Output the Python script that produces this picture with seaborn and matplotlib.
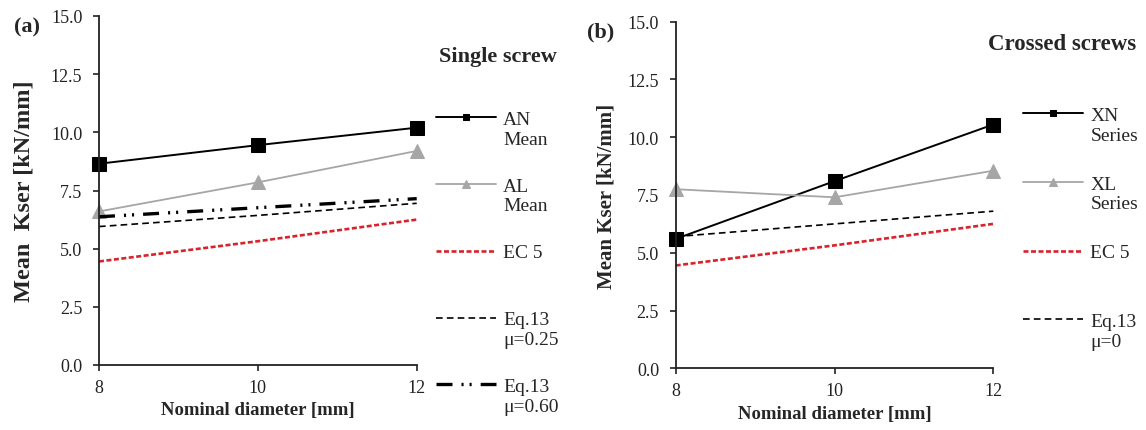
import numpy as np
import pandas as pd
import matplotlib
matplotlib.use("Agg")
import matplotlib.pyplot as plt
from matplotlib.legend_handler import HandlerLine2D
import seaborn as sns

# Nominal screw diameters [mm]
diameter = [8, 10, 12]

# (a) single screw: mean slip modulus and design predictions [kN/mm]
an_mean = [8.65, 9.45, 10.2]
al_mean = [6.6, 7.85, 9.2]
ec5 = [4.45, 5.32, 6.25]
eq13_mu025 = [5.95, 6.43, 6.95]
eq13_mu060 = [6.37, 6.76, 7.15]

# (b) crossed screws
xn_series = [5.6, 8.1, 10.55]
xl_series = [7.75, 7.4, 8.55]
eq13_mu0 = [5.7, 6.25, 6.8]

y_ticks = [0.0, 2.5, 5.0, 7.5, 10.0, 12.5, 15.0]

sns.set_theme(style="ticks")
plt.rcParams["font.family"] = ["Liberation Serif", "DejaVu Serif"]
plt.rcParams["lines.scale_dashes"] = False

W, H = 1146, 431
fig = plt.figure(figsize=(W / 100, H / 100), dpi=100)
fig.patch.set_facecolor("white")


def px_axes(x0, y0, x1, y1):
    return fig.add_axes([x0 / W, 1 - y1 / H, (x1 - x0) / W, (y1 - y0) / H])


ax_a = px_axes(99, 17, 416.7, 366)
ax_b = px_axes(675.7, 22.7, 993.3, 369.3)

GRAY = "#a6a6a6"
RED = "#d8232c"
STYLE = {
    "solid_sq": dict(color="black", lw=1.4, marker="s", markersize=9.5,
                     markeredgecolor="black", linestyle="-"),
    "solid_tri": dict(color=GRAY, lw=1.3, marker="^", markersize=10.5,
                      markeredgecolor=GRAY, linestyle="-"),
    "ec5": dict(color=RED, lw=1.9, marker=None, linestyle=(0, (3.6, 1.8))),
    "eq_dash": dict(color="black", lw=1.2, marker=None, linestyle=(0, (4.8, 3.0))),
    "eq_dashdot": dict(color="black", lw=2.4, marker=None,
                       linestyle=(0, (11.5, 6.5, 1.5, 4.3, 1.5, 6.5))),
}


def draw(ax, values, key, label):
    df = pd.DataFrame({"d": diameter, "k": values})
    sns.lineplot(data=df, x="d", y="k", ax=ax, label=label, clip_on=False,
                 **STYLE[key])


draw(ax_a, an_mean, "solid_sq", "AN\nMean")
draw(ax_a, al_mean, "solid_tri", "AL\nMean")
draw(ax_a, ec5, "ec5", "EC 5\n")
draw(ax_a, eq13_mu025, "eq_dash", "Eq.13\nμ=0.25")
draw(ax_a, eq13_mu060, "eq_dashdot", "Eq.13\nμ=0.60")

draw(ax_b, xn_series, "solid_sq", "XN\nSeries")
draw(ax_b, xl_series, "solid_tri", "XL\nSeries")
draw(ax_b, ec5, "ec5", "EC 5\n")
draw(ax_b, eq13_mu0, "eq_dash", "Eq.13\nμ=0")


class FirstLineHandler(HandlerLine2D):
    """Legend handle aligned with the first line of a two-line label."""

    def __init__(self, shift, **kw):
        super().__init__(**kw)
        self.shift = shift

    def create_artists(self, legend, orig_handle, xdescent, ydescent,
                       width, height, fontsize, trans):
        arts = super().create_artists(legend, orig_handle, xdescent, ydescent,
                                      width, height, fontsize, trans)
        for a in arts:
            a.set_ydata(np.asarray(a.get_ydata()) + self.shift * fontsize)
        return arts


for ax, ylab, ysize, ypad in [(ax_a, "Mean  Kser [kN/mm]", 17.5, 12),
                              (ax_b, "Mean Kser [kN/mm]", 15, 8)]:
    ax.set_xlim(8, 12)
    ax.set_ylim(0, 15)
    ax.set_xticks(diameter)
    ax.set_xticklabels([str(d) for d in diameter])
    ax.set_yticks(y_ticks)
    ax.set_yticklabels([f"{t:.1f}" for t in y_ticks])
    ax.tick_params(axis="both", direction="out", length=4, width=1.2,
                   labelsize=13, colors="#222222")
    ax.tick_params(axis="y", pad=8)
    ax.tick_params(axis="x", pad=6)
    for s in ["top", "right"]:
        ax.spines[s].set_visible(False)
    for s in ["left", "bottom"]:
        ax.spines[s].set_linewidth(1.3)
        ax.spines[s].set_color("#222222")
    ax.set_xlabel("Nominal diameter [mm]", fontsize=13.5, fontweight="bold",
                  labelpad=4)
    ax.set_ylabel(ylab, fontsize=ysize, fontweight="bold", labelpad=ypad)
    ax.get_legend().remove()


def place_legend(ax, x_px, y_px, spacing):
    handles, labels = ax.get_legend_handles_labels()
    hmap = {h: FirstLineHandler(0.6) for h in handles}
    leg = fig.legend(handles, labels, loc="upper left",
                     bbox_to_anchor=(x_px / W, 1 - y_px / H),
                     bbox_transform=fig.transFigure, frameon=False,
                     fontsize=14, handlelength=3.1, handletextpad=0.36,
                     labelspacing=spacing, markerscale=0.5, borderaxespad=0,
                     borderpad=0, handler_map=hmap)
    return leg


place_legend(ax_a, 436, 112, 1.55)
place_legend(ax_b, 1023, 108, 1.65)

fig.text(439 / W, 1 - 57 / H, "Single screw", fontsize=16, fontweight="bold",
         va="center", ha="left")
fig.text(988 / W, 1 - 45 / H, "Crossed screws", fontsize=16.5, fontweight="bold",
         va="center", ha="left")
fig.text(14 / W, 1 - 27 / H, "(a)", fontsize=16, fontweight="bold",
         va="center", ha="left")
fig.text(587 / W, 1 - 32 / H, "(b)", fontsize=16, fontweight="bold",
         va="center", ha="left")

fig.savefig("out.png", dpi=100, facecolor="white")
